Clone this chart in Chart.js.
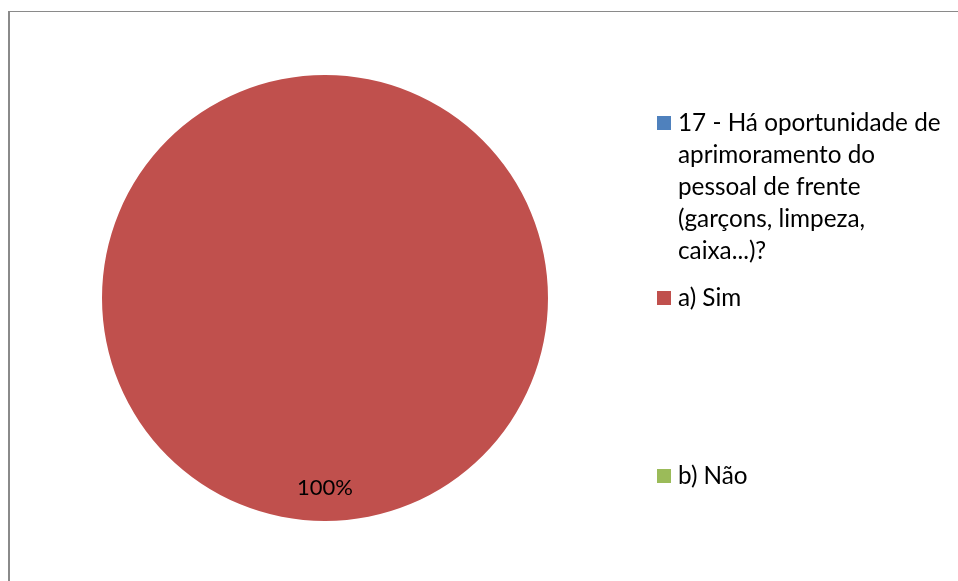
<!DOCTYPE html>
<html>
<head>
<meta charset="utf-8">
<script src="https://cdn.jsdelivr.net/npm/chart.js@4"></script>
<style>
  html, body { margin: 0; padding: 0; background: #fff; overflow: hidden; }
  #wrap { position: relative; width: 958px; height: 581px; }
  #frame {
    position: absolute; left: 8px; top: 11px; width: 1000px; height: 600px;
    border-left: 2px solid #8a8a8a; border-top: 1px solid #8a8a8a;
  }
  canvas { position: absolute; left: 0; top: 0; }
</style>
</head>
<body>
<div id="wrap">
  <div id="frame"></div>
  <canvas id="pieChart" width="958" height="581"></canvas>
</div>
<script>
// chart data
const labels = [
  "17 - Há oportunidade de aprimoramento do pessoal de frente (garçons, limpeza, caixa...)?",
  "a) Sim",
  "b) Não"
];
const values = [0, 100, 0];
const colors = ["#4F81BD", "#C0504D", "#9BBB59"];

const fontFamily = "Lato, 'Open Sans', sans-serif";

// wrap a label into lines that fit maxWidth
function wrapText(ctx, text, maxWidth) {
  const words = text.split(" ");
  const lines = [];
  let line = "";
  words.forEach(function (w) {
    const test = line ? line + " " + w : w;
    if (ctx.measureText(test).width > maxWidth && line) {
      lines.push(line);
      line = w;
    } else {
      line = test;
    }
  });
  if (line) lines.push(line);
  return lines;
}

// legend drawn on the right like the Excel original
const sideLegend = {
  id: "sideLegend",
  afterDraw(chart) {
    const ctx = chart.ctx;
    const entryTops = [123, 298, 476];
    const lineHeight = 32;
    ctx.save();
    ctx.font = "24.3px " + fontFamily;
    ctx.textBaseline = "middle";
    ctx.textAlign = "left";
    chart.data.labels.forEach(function (lbl, i) {
      const y = entryTops[i];
      ctx.fillStyle = chart.data.datasets[0].backgroundColor[i];
      ctx.fillRect(657, y - 7, 14, 14);
      ctx.fillStyle = "#000";
      const lines = wrapText(ctx, lbl, 266);
      lines.forEach(function (l, j) {
        ctx.fillText(l, 678, y + j * lineHeight);
      });
    });
    ctx.restore();
  }
};

// percentage label placed on the slice
const sliceLabels = {
  id: "sliceLabels",
  afterDatasetsDraw(chart) {
    const ctx = chart.ctx;
    const meta = chart.getDatasetMeta(0);
    const data = chart.data.datasets[0].data;
    const total = data.reduce((a, b) => a + b, 0);
    ctx.save();
    ctx.font = "22px " + fontFamily;
    ctx.fillStyle = "#000";
    ctx.textAlign = "center";
    ctx.textBaseline = "middle";
    meta.data.forEach(function (arc, i) {
      if (!data[i]) return;
      const p = arc.getProps(["x", "y", "startAngle", "endAngle", "outerRadius"], true);
      const mid = (p.startAngle + p.endAngle) / 2;
      const r = p.outerRadius * 0.85;
      const pct = Math.round(data[i] / total * 100) + "%";
      ctx.fillText(pct, p.x + Math.cos(mid) * r, p.y + Math.sin(mid) * r);
    });
    ctx.restore();
  }
};

const ctx = document.getElementById("pieChart").getContext("2d");
new Chart(ctx, {
  type: "pie",
  data: {
    labels: labels,
    datasets: [{
      data: values,
      backgroundColor: colors,
      borderWidth: 0
    }]
  },
  options: {
    responsive: false,
    animation: false,
    layout: { padding: { left: 102, right: 410, top: 75, bottom: 60 } },
    plugins: {
      legend: { display: false },
      tooltip: { enabled: false }
    }
  },
  plugins: [sliceLabels, sideLegend]
});
</script>
</body>
</html>
